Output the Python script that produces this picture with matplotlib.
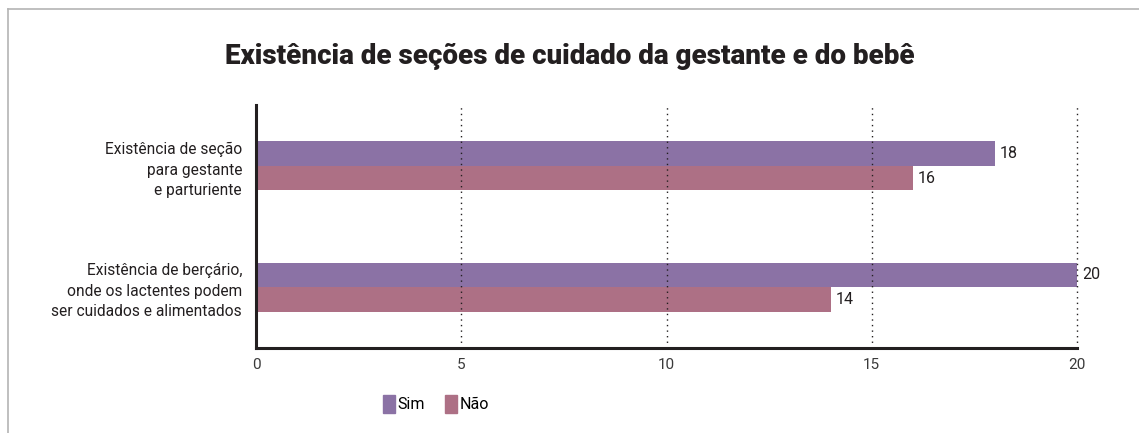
import matplotlib.pyplot as plt
import numpy as np
from matplotlib.lines import Line2D
from matplotlib.patches import Patch

categories = [
	"Existência de seção\npara gestante\ne parturiente",
	"Existência de berçário,\nonde os lactentes podem\nser cuidados e alimentados",
]
sim_values = [18, 20]
nao_values = [16, 14]
x_ticks = [0, 5, 10, 15, 20]

SIM_COLOR = "#8b72a5"
NAO_COLOR = "#ad7085"
TEXT_COLOR = "#231f20"
FONT = "Roboto"

fig = plt.figure(figsize=(11.39, 4.33), dpi=100)

# light gray frame on top and left
fig.add_artist(Line2D([8 / 1139, 1.0], [1 - 9 / 433, 1 - 9 / 433], color="#b4b4b4", lw=1.2))
fig.add_artist(Line2D([8 / 1139, 8 / 1139], [0.0, 1 - 9 / 433], color="#b4b4b4", lw=1.2))

ax = fig.add_axes([256 / 1139, 1 - 348 / 433, (1077 - 256) / 1139, (348 - 105) / 433])

y = np.arange(len(categories))
h = 0.2025
ax.barh(y - h / 2, sim_values, height=h, color=SIM_COLOR, zorder=2)
ax.barh(y + h / 2, nao_values, height=h, color=NAO_COLOR, zorder=2)

for yi, v in zip(y, sim_values):
	ax.text(v + 0.12, yi - h / 2, str(v), va="center", ha="left", fontsize=11.5, color=TEXT_COLOR, family=FONT)
for yi, v in zip(y, nao_values):
	ax.text(v + 0.12, yi + h / 2, str(v), va="center", ha="left", fontsize=11.5, color=TEXT_COLOR, family=FONT)

ax.set_xlim(0, 20)
ax.set_ylim(1.504, -0.504)
for t in x_ticks[1:]:
	ax.axvline(t, color="#231f20", lw=1, linestyle=(0, (1, 3)), zorder=3, clip_on=False)

ax.set_xticks(x_ticks)
ax.set_xticklabels([str(t) for t in x_ticks], fontsize=11, color="#3a3a3a", family=FONT)
ax.tick_params(axis="x", length=0, pad=7)
ax.set_yticks(y)
ax.set_yticklabels(categories, fontsize=11.2, color=TEXT_COLOR, family=FONT, linespacing=1.45)
ax.tick_params(axis="y", length=0, pad=10)

for side in ["top", "right"]:
	ax.spines[side].set_visible(False)
for side in ["left", "bottom"]:
	ax.spines[side].set_linewidth(2.2)
	ax.spines[side].set_color("#231f20")

fig.text(0.5, 1 - 57 / 433, "Existência de seções de cuidado da gestante e do bebê", ha="center", va="center",
	fontsize=20, fontweight="black", color=TEXT_COLOR, family=FONT)

handles = [Patch(color=SIM_COLOR, label="Sim"), Patch(color=NAO_COLOR, label="Não")]
fig.legend(handles=handles, loc="center", bbox_to_anchor=(436 / 1139, 1 - 404 / 433), ncol=2, frameon=False,
	handlelength=0.75, handleheight=1.4, handletextpad=0.15, columnspacing=1.3,
	prop={"family": FONT, "size": 11.5})

fig.savefig("out.png", dpi=100)
plt.close(fig)
